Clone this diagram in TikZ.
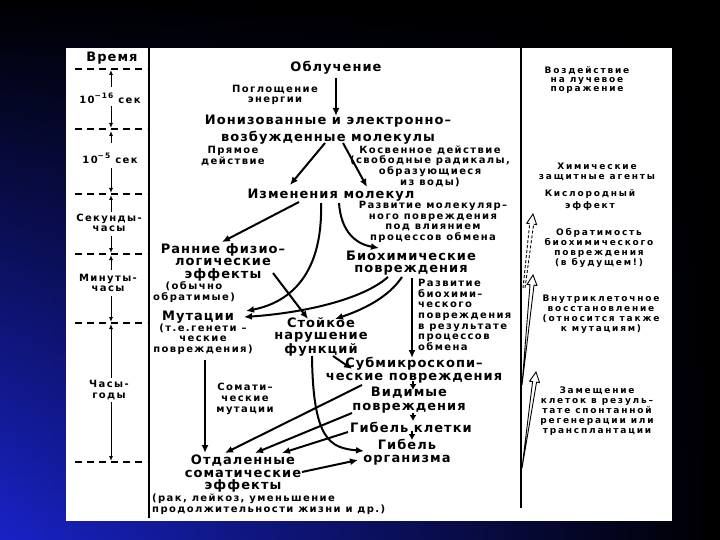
\documentclass[tikz,border=0pt]{standalone}
\usepackage{fontspec}
\setmainfont{DejaVu Sans}
\newfontfamily\mainfam[LetterSpace=8]{DejaVu Sans}
\newfontfamily\annfam[LetterSpace=14]{DejaVu Sans}
\newfontfamily\rfam[LetterSpace=20]{DejaVu Sans}
\usetikzlibrary{arrows.meta,calc,fadings}
\tikzfading[name=fadeup, top color=transparent!100, bottom color=transparent!0]
\definecolor{bgblue}{RGB}{25,35,200}
\newcommand{\mfont}{\mainfam\bfseries\fontsize{13}{12.5}\selectfont}
\newcommand{\afont}{\annfam\bfseries\fontsize{10}{10.7}\selectfont}
\newcommand{\rfont}{\rfam\bfseries\fontsize{9}{10}\selectfont}
\newcommand{\supm}[1]{\raisebox{5pt}{\fontsize{7.5}{7.5}\selectfont #1}}
\newcommand{\hollowpts}[3]{%
  \coordinate (#1b) at #2;
  \coordinate (#1t) at #3;
  \coordinate (#1h) at ($(#1t)!10pt!(#1b)$);
  \coordinate (#1hl) at ($(#1h)!5pt!90:(#1t)$);
  \coordinate (#1hr) at ($(#1h)!5pt!-90:(#1t)$);
  \coordinate (#1sl) at ($(#1h)!2pt!90:(#1t)$);
  \coordinate (#1sr) at ($(#1h)!2pt!-90:(#1t)$);
}
\begin{document}
\begin{tikzpicture}[x=1pt,y=-1pt,
  every node/.style={inner sep=0pt,text=black},
  mainbox/.style={font=\mfont,align=center},
  annbox/.style={font=\afont,align=center},
  rbox/.style={font=\rfont,align=center},
  arr/.style={line width=2pt,-{Latex[length=8pt,width=7pt]}},
  sarr/.style={line width=2pt,-{Latex[length=6pt,width=7pt]}},
  tarr/.style={line width=1pt,-{Latex[length=5pt,width=4pt]}},
  tdash/.style={line width=1.2pt,dash pattern=on 7pt off 5pt},
  vline/.style={line width=2.6pt},
  hol/.style={line width=0.9pt,fill=white,line join=miter},
  holdash/.style={line width=0.9pt,dash pattern=on 3pt off 2pt}]
\useasboundingbox (0,0) rectangle (720,540);
% background
\fill[black] (0,0) rectangle (720,540);
\shade[left color=bgblue,right color=black,path fading=fadeup] (0,0) rectangle (720,540);
\fill[white] (66,48) rectangle (672,521);

% frame lines
\draw[vline] (149,48) -- (149,518);
\draw[vline] (521,48) -- (521,508);

% time scale
\node[mainbox] (time) at (112,58) {Время};
\foreach \n/\yy in {1/69,2/129,3/194,4/254,5/323,6/462}{
  \coordinate (d\n) at (111,\yy);
  \draw[tdash] (75,\yy) -- (147,\yy);
}
\node[annbox] (t1) at (110,98) {10\supm{−16}\hspace{5pt}сек};
\node[annbox] (t2) at (110,158) {10\supm{−5}\hspace{5pt}сек};
\node[annbox] (t3) at (109,223) {Секунды-\\часы};
\node[annbox] (t4) at (108,283) {Минуты-\\часы};
\node[annbox] (t5) at (109,390) {Часы-\\годы};
\draw[tarr] ($(t1)+(1,-11)$) -- ($(d1)+(0,1)$);
\draw[tarr] ($(t1)+(1,8)$) -- ($(d2)+(0,-1)$);
\draw[tarr] ($(t2)+(1,-15)$) -- ($(d2)+(0,2)$);
\draw[tarr] ($(t2)+(1,10)$) -- ($(d3)+(0,-1)$);
\draw[tarr] ($(t3)+(2,-11)$) -- ($(d3)+(0,1)$);
\draw[tarr] ($(t3)+(2,13)$) -- ($(d4)+(0,-1)$);
\draw[tarr] ($(t4)+(3,-13)$) -- ($(d4)+(0,1)$);
\draw[tarr] ($(t4)+(3,13)$) -- ($(d5)+(0,-1)$);
\draw[tarr] ($(t5)+(2,-12)$) -- ($(d5)+(0,1)$);
\draw[tarr] ($(t5)+(2,12)$) -- ($(d6)+(0,-1)$);

% central nodes
\node[mainbox] (obl) at (336,68) {Облучение};
\node[annbox] (pog) at (275,95) {Поглощение\\энергии};
\node[mainbox] (ion) at (328,130) {Ионизованные и электронно–\\[3pt]возбужденные молекулы};
\node[annbox] (prm) at (233,156) {Прямое\\действие};
\node[annbox] (kos) at (430,166) {Косвенное действие\\(свободные радикалы,\\образующиеся\\из воды)};
\node[mainbox] (izm) at (331,195) {Изменения молекул};
\node[annbox] (razv1) at (433,222) {Развитие молекуляр–\\ного повреждения\\под влиянием\\процессов обмена};
\node[mainbox] (ran) at (223,262) {Ранние физио–\\логические\\эффекты};
\node[annbox] (obr) at (194,292) {(обычно\\обратимые)};
\node[mainbox] (bio) at (411,263) {Биохимические\\повреждения};
\node[annbox,align=left,anchor=north west] (razv2) at (418,279) {Развитие\\биохими–\\ческого\\повреждения\\в результате\\процессов\\обмена};
\node[mainbox] (mut) at (198,317) {Мутации};
\node[annbox] (mutd) at (203,339) {(т.е.генети –\\ческие\\повреждения)};
\node[mainbox] (sto) at (321,337) {Стойкое\\нарушение\\функций};
\node[mainbox] (sub) at (414,370) {Субмикроскопи–\\ческие повреждения};
\node[mainbox] (vid) at (409,400) {Видимые\\[1.5pt]повреждения};
\node[mainbox] (gk) at (411,427) {Гибель клетки};
\node[mainbox] (go) at (407,452) {Гибель\\организма};
\node[annbox] (som) at (245,399) {Сомати–\\ческие\\мутации};
\node[mainbox] (otd) at (243,474) {Отдаленные\\соматические\\эффекты};
\node[annbox,align=left,anchor=base west] (rak) at (152,512.5) {(рак, лейкоз, уменьшение\\продолжительности жизни и др.)};

% right column
\node[rbox] (vozd) at (587,80) {Воздействие\\[-1pt]на лучевое\\[-1pt]поражение};
\node[rbox] (him) at (597,172) {Химические\\защитные агенты};
\node[rbox] (kis) at (590,200) {Кислородный\\[2pt]эффект};
\node[rbox] (obrat) at (599,248) {Обратимость\\биохимического\\повреждения\\(в будущем!)};
\node[rbox] (vnut) at (601,314) {Внутриклеточное\\восстановление\\(относится также\\к мутациям)};
\node[rbox] (zam) at (597,411) {Замещение\\клеток в резуль–\\тате спонтанной\\регенерации или\\трансплантации};

% central connectors
\draw[arr] ($(obl)+(0,10)$) -- ($(ion)+(8,-14)$);
\draw[arr] ($(ion)+(-3,13)$) -- ($(izm)+(-41,-10)$);
\draw[arr] ($(ion)+(15,13)$) -- ($(izm)+(36,-8)$);
\draw[arr] ($(izm)+(-32,7)$) -- ($(ran)+(-1,-20)$);
\draw[arr] ($(izm)+(-10,8)$) .. controls +(2,69) and +(46,-9) .. ($(mut)+(48,-6)$);
\draw[arr] ($(izm)+(8,8)$) .. controls +(2,29) and +(-23,-4) .. ($(bio)+(-32,-15)$);
\draw[arr] ($(ran)+(50,11)$) -- ($(sto)+(-13,-18)$);
\draw[arr] ($(bio)+(-23,14)$) .. controls +(-26,23) and +(58,-4) .. ($(mut)+(46,0)$);
\draw[arr] ($(bio)+(-9,14)$) .. controls +(-14,21) and +(27,-9) .. ($(sto)+(14,-18)$);
\draw[arr] ($(bio)+(1,15)$) -- ($(sub)+(-2,-12)$);
\draw[arr] ($(sto)+(12,19)$) -- ($(sub)+(-62,-1)$);
\draw[sarr] ($(sub)+(-1,11)$) -- ($(vid)+(4,-10)$);
\draw[sarr] ($(vid)+(4,13)$) -- ($(gk)+(2,-6)$);
\draw[sarr] ($(gk)+(1,4)$) -- ($(go)+(5,-12)$);
\draw[arr] ($(sto)+(-9,19)$) .. controls +(1,84) and +(-34,-3) .. ($(go)+(-43,-1)$);
\draw[arr] ($(mut)+(7,43)$) -- ($(otd)+(-38,-21)$);
\draw[arr] ($(sub)+(-52,15)$) -- ($(otd)+(-18,-21)$);
\draw[arr] ($(vid)+(-57,13)$) -- ($(otd)+(12,-21)$);
\draw[arr] ($(gk)+(-63,5)$) -- ($(otd)+(39,-21)$);
\draw[arr] ($(otd)+(59,-2)$) -- ($(go)+(-49,8)$);

% hollow arrows on the right
\hollowpts{ha}{(523,288)}{(533,214)}
\hollowpts{hb}{(522,385)}{(533,275)}
\hollowpts{hc}{(522,468)}{(536,372)}
\draw[holdash] (hab) -- (hasl);
\draw[holdash] ($(hab)+(2,0)$) -- (hasr);
\draw[hol] (hasl) -- (hahl) -- (hat) -- (hahr) -- (hasr);
\draw[hol] (hbb) -- (hbsl) -- (hbhl) -- (hbt) -- (hbhr) -- (hbsr) -- cycle;
\draw[hol] (hcb) -- (hcsl) -- (hchl) -- (hct) -- (hchr) -- (hcsr) -- cycle;
\end{tikzpicture}
\end{document}
